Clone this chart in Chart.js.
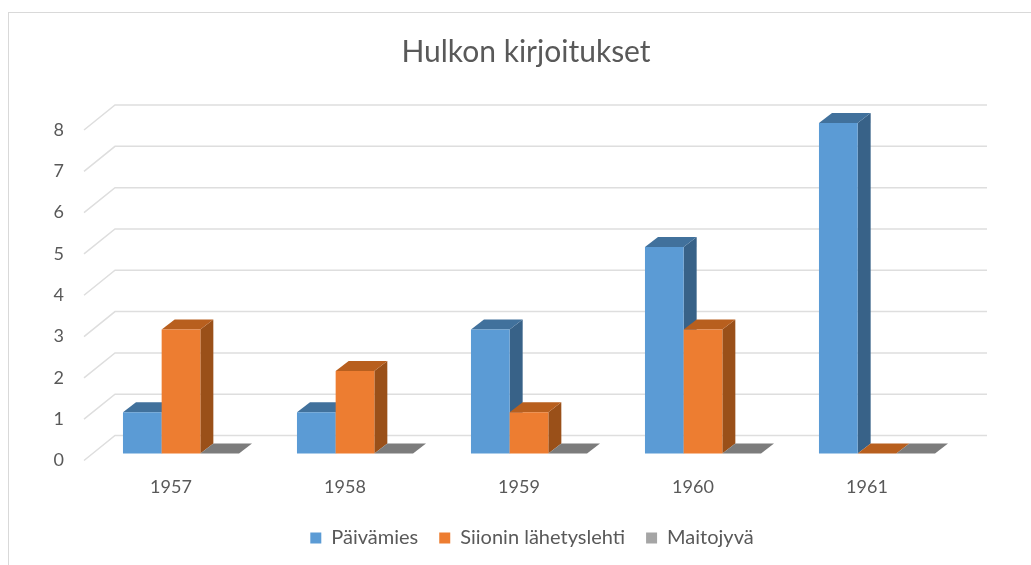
<!DOCTYPE html>
<html>
<head>
<meta charset="utf-8">
<title>Hulkon kirjoitukset</title>
<script src="https://cdn.jsdelivr.net/npm/chart.js@4/dist/chart.umd.min.js"></script>
<style>
  html, body { margin: 0; padding: 0; background: #fff; }
  #kehys { position: absolute; left: 8px; top: 12px; right: -2px; bottom: -2px; border: 1px solid #d9d9d9; }
  #kaavio { position: absolute; left: 0; top: 0; }
</style>
</head>
<body>
<div id="kehys"></div>
<canvas id="kaavio" width="1031" height="565"></canvas>
<script>
const vuodet = ["1957", "1958", "1959", "1960", "1961"];
const paivamies = [1, 1, 3, 5, 8];
const siioninLahetyslehti = [3, 2, 1, 3, 0];
const maitojyva = [0, 0, 0, 0, 0];

// 3D look: the scales sit on the front plane, bars a bit behind it
const takaseina = { x: 31, y: -25 };
const pylvasSiirto = { x: 10, y: -7 };
const syvyys = { x: 13, y: -10 };

const varit = [
  { etu: "#5b9bd5", katto: "#41719c", sivu: "#386288" },
  { etu: "#ed7d31", katto: "#b85f1e", sivu: "#9a5019" },
  { etu: "#a5a5a5", katto: "#7c7c7c", sivu: "#6e6e6e" }
];

function monikulmio(ctx, pisteet, vari) {
  ctx.fillStyle = vari;
  ctx.beginPath();
  pisteet.forEach((p, i) => (i ? ctx.lineTo(p[0], p[1]) : ctx.moveTo(p[0], p[1])));
  ctx.closePath();
  ctx.fill();
}

const kolmeD = {
  id: "kolmeD",
  afterLayout(chart) {
    // title and legend are not centred on the plot in the original
    chart.titleBlock.left += 49;
    chart.titleBlock.right += 49;
    chart.titleBlock.top += 2;
    chart.titleBlock.bottom += 2;
    chart.legend.left += 55;
    chart.legend.right += 55;
    chart.legend.top -= 7;
    chart.legend.bottom -= 7;
  },
  beforeDatasetsDraw(chart) {
    const { ctx, chartArea, scales } = chart;
    ctx.save();
    ctx.strokeStyle = "#dedede";
    ctx.lineWidth = 1.5;
    scales.y.ticks.forEach(t => {
      const y = scales.y.getPixelForValue(t.value);
      ctx.beginPath();
      ctx.moveTo(chartArea.left, y);
      ctx.lineTo(chartArea.left + takaseina.x, y + takaseina.y);
      ctx.lineTo(chartArea.right + takaseina.x + 2, y + takaseina.y);
      ctx.stroke();
    });
    ctx.restore();

    // left to right so that the next bar covers the side of the previous one
    ctx.save();
    ctx.translate(pylvasSiirto.x, pylvasSiirto.y);
    chart.data.datasets.forEach((ds, i) => {
      const vari = varit[i];
      chart.getDatasetMeta(i).data.forEach(b => {
        const v = b.x - b.width / 2, o = b.x + b.width / 2;
        monikulmio(ctx, [[o, b.y], [o + syvyys.x, b.y + syvyys.y], [o + syvyys.x, b.base + syvyys.y], [o, b.base]], vari.sivu);
        monikulmio(ctx, [[v, b.y], [v + syvyys.x, b.y + syvyys.y], [o + syvyys.x, b.y + syvyys.y], [o, b.y]], vari.katto);
        b.draw(ctx);
      });
    });
    ctx.restore();
  },
  beforeDatasetDraw() {
    return false; // already drawn above
  }
};

const kirjain = "Lato, sans-serif";

new Chart(document.getElementById("kaavio"), {
  type: "bar",
  data: {
    labels: vuodet,
    datasets: [
      { label: "Päivämies", data: paivamies, backgroundColor: varit[0].etu },
      { label: "Siionin lähetyslehti", data: siioninLahetyslehti, backgroundColor: varit[1].etu },
      { label: "Maitojyvä", data: maitojyva, backgroundColor: varit[2].etu }
    ]
  },
  plugins: [kolmeD],
  options: {
    responsive: false,
    animation: false,
    categoryPercentage: 0.667,
    barPercentage: 1,
    layout: { padding: { left: 0, right: 77, top: 0, bottom: 0 } },
    plugins: {
      title: {
        display: true,
        text: "Hulkon kirjoitukset",
        color: "#595959",
        font: { family: kirjain, size: 30, weight: "normal", lineHeight: 1.2 },
        padding: { top: 32, bottom: 62 }
      },
      legend: {
        position: "bottom",
        labels: {
          color: "#595959",
          font: { family: kirjain, size: 20 },
          boxWidth: 11,
          boxHeight: 11,
          padding: 21
        }
      },
      tooltip: { enabled: false }
    },
    scales: {
      x: {
        grid: { display: false, drawTicks: false },
        border: { display: false },
        ticks: { color: "#595959", font: { family: kirjain, size: 18 }, padding: 16, maxRotation: 0, autoSkip: false },
        afterFit(s) { s.height = 53.5; }
      },
      y: {
        min: 0,
        max: 8,
        grid: { display: false, drawTicks: false },
        border: { display: false },
        ticks: { stepSize: 1, color: "#595959", font: { family: kirjain, size: 18 }, padding: 20 },
        afterFit(s) { s.width = 84; }
      }
    }
  }
});
</script>
</body>
</html>
